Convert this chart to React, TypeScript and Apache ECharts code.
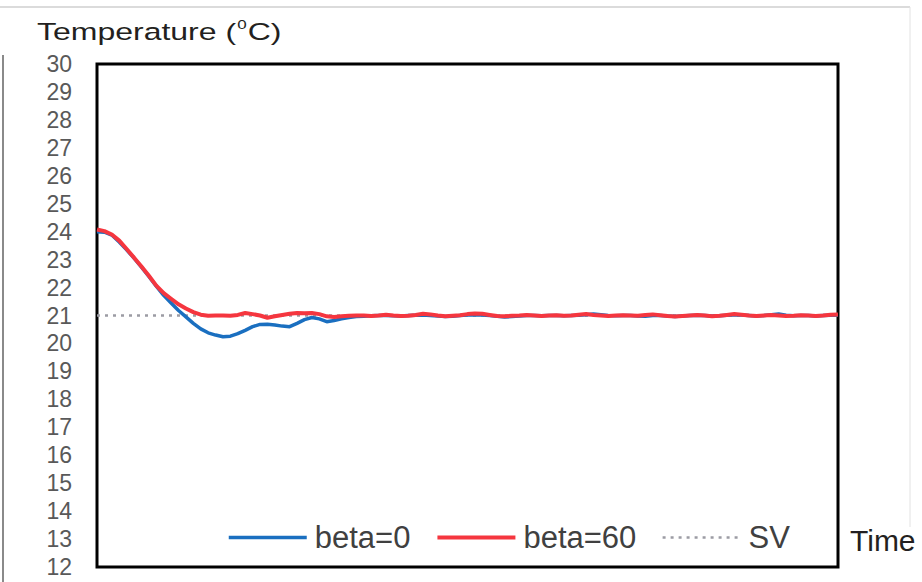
import React, { useEffect, useRef } from "react";
import * as echarts from "echarts";

// Y axis range (°C)
const Y_MIN = 12;
const Y_MAX = 30;
const Y_STEP = 1;

// Time axis (arbitrary units, index of samples)
const T_MIN = 0;
const T_MAX = 100;

// Set value
const SV_LEVEL = 21;

const SERIES_NAMES = ["beta=0", "beta=60", "SV"];

// beta=0 temperature samples (one per time unit, t = 0..100)
const BETA0 = [
  24.0, 23.98, 23.88, 23.63, 23.35, 23.05, 22.73, 22.4, 22.05, 21.72,
  21.45, 21.18, 20.95, 20.72, 20.52, 20.38, 20.3, 20.24, 20.26, 20.35,
  20.47, 20.6, 20.68, 20.69, 20.66, 20.62, 20.6, 20.72, 20.85, 20.93,
  20.88, 20.78, 20.82, 20.88, 20.93, 20.96, 20.97, 20.99, 21.0, 21.0,
  20.99, 20.98, 21.0, 21.01, 21.02, 21.0, 20.98, 20.96, 20.97, 21.0,
  21.02, 21.03, 21.02, 21.0, 20.97, 20.95, 20.96, 20.98, 21.0, 21.0,
  20.99, 21.0, 21.0, 20.99, 21.0, 21.01, 21.03, 21.05, 21.03, 21.0,
  20.99, 21.0, 21.0, 20.98, 20.97, 21.0, 21.0, 20.98, 20.96, 20.98,
  21.0, 21.01, 21.0, 20.98, 20.99, 21.01, 21.03, 21.02, 21.0, 20.98,
  21.0, 21.03, 21.05, 21.01, 20.99, 21.0, 21.0, 20.98, 21.0, 21.01,
  21.02,
];

// beta=60 temperature samples (one per time unit, t = 0..100)
const BETA60 = [
  24.08, 24.02, 23.9, 23.68, 23.38, 23.07, 22.75, 22.42, 22.07, 21.8,
  21.6, 21.4, 21.25, 21.12, 21.03, 20.99, 21.0, 21.0, 20.99, 21.02,
  21.09, 21.05, 21.0, 20.92, 20.97, 21.02, 21.06, 21.09, 21.08, 21.09,
  21.05, 20.97, 20.95, 20.97, 20.99, 21.0, 21.0, 20.98, 21.0, 21.03,
  21.0, 20.98, 20.99, 21.02, 21.06, 21.04, 21.0, 20.97, 20.99, 21.01,
  21.05, 21.07, 21.06, 21.02, 20.98, 20.97, 20.99, 21.0, 21.02, 21.0,
  20.98, 21.0, 21.01, 20.99, 21.0, 21.03, 21.05, 21.02, 21.0, 20.98,
  21.0, 21.01, 21.0, 20.99, 21.02, 21.04, 21.01, 20.98, 20.96, 20.98,
  21.0, 21.02, 21.0, 20.97, 20.99, 21.02, 21.05, 21.03, 21.0, 20.98,
  21.0, 21.02, 21.0, 20.98, 20.99, 21.01, 21.0, 20.98, 21.0, 21.03,
  21.04,
];

const FONT = '"Liberation Sans", Arial, sans-serif';

export default function App() {
  const ref = useRef<HTMLDivElement>(null);

  useEffect(() => {
    document.body.style.margin = "0";
    if (!ref.current) return;
    const chart = echarts.init(ref.current, null, { renderer: "svg" });

    const option: any = {
      animation: false,
      backgroundColor: "#ffffff",
      grid: {
        left: 97,
        top: 64,
        width: 741,
        height: 503,
        show: true,
        borderColor: "#000000",
        borderWidth: 3,
        backgroundColor: "transparent",
        containLabel: false,
      },
      xAxis: {
        type: "value",
        min: T_MIN,
        max: T_MAX,
        axisLine: { show: false },
        axisTick: { show: false },
        axisLabel: { show: false },
        splitLine: { show: false },
      },
      yAxis: {
        type: "value",
        min: Y_MIN,
        max: Y_MAX,
        interval: Y_STEP,
        axisLine: { show: false },
        axisTick: { show: false },
        splitLine: { show: false },
        axisLabel: {
          color: "#595959",
          fontSize: 23,
          fontFamily: FONT,
          margin: 25,
        },
      },
      legend: {
        data: SERIES_NAMES,
        left: 222,
        top: 517,
        itemWidth: 78,
        itemHeight: 14,
        itemGap: 25,
        itemStyle: { opacity: 0 },
        lineStyle: { width: "inherit" },
        textStyle: {
          color: "#404040",
          fontSize: 31,
          fontFamily: FONT,
          padding: [0, 0, 0, 3],
        },
      },
      graphic: [
        {
          type: "line",
          shape: { x1: 0, y1: 7, x2: 910, y2: 7 },
          style: { stroke: "#cfcfcf", lineWidth: 1.5 },
          silent: true,
        },
        {
          type: "line",
          shape: { x1: 910, y1: 7, x2: 910, y2: 527 },
          style: { stroke: "#e2e2e2", lineWidth: 1 },
          silent: true,
        },
        {
          type: "line",
          shape: { x1: 3, y1: 55, x2: 3, y2: 582 },
          style: { stroke: "#8a8a8a", lineWidth: 2 },
          silent: true,
        },
        {
          type: "text",
          x: 37,
          y: 31,
          scaleY: 0.76,
          style: {
            text: "{a|Temperature (}{s|0}{a|C)}",
            verticalAlign: "middle",
            rich: {
              a: { fontSize: 32, fontFamily: FONT, fill: "#231f20", lineHeight: 34 },
              s: { fontSize: 17, fontFamily: FONT, fill: "#231f20", lineHeight: 34, verticalAlign: "top", padding: [0, 1, 0, 1] },
            },
          },
        },
        {
          type: "text",
          x: 850,
          y: 540,
          style: {
            text: "Time",
            font: `30px ${FONT}`,
            fill: "#231f20",
            verticalAlign: "middle",
            align: "left",
          },
        },
      ],
      series: [
        {
          name: "SV",
          type: "line",
          data: [
            [T_MIN, SV_LEVEL],
            [T_MAX, SV_LEVEL],
          ],
          symbol: "none",
          z: 1,
          itemStyle: { color: "#9c9ca4" },
          lineStyle: { color: "#9c9ca4", width: 2.5, type: [3, 5] },
        },
        {
          name: "beta=0",
          type: "line",
          data: BETA0.map((v, i) => [i, v]),
          symbol: "none",
          z: 2,
          itemStyle: { color: "#1a6fc0" },
          lineStyle: { color: "#1a6fc0", width: 3.5 },
        },
        {
          name: "beta=60",
          type: "line",
          data: BETA60.map((v, i) => [i, v]),
          symbol: "none",
          z: 3,
          itemStyle: { color: "#f5363f" },
          lineStyle: { color: "#f5363f", width: 4 },
        },
      ],
    };

    chart.setOption(option);
    return () => chart.dispose();
  }, []);

  return <div ref={ref} style={{ width: 922, height: 582 }} />;
}
